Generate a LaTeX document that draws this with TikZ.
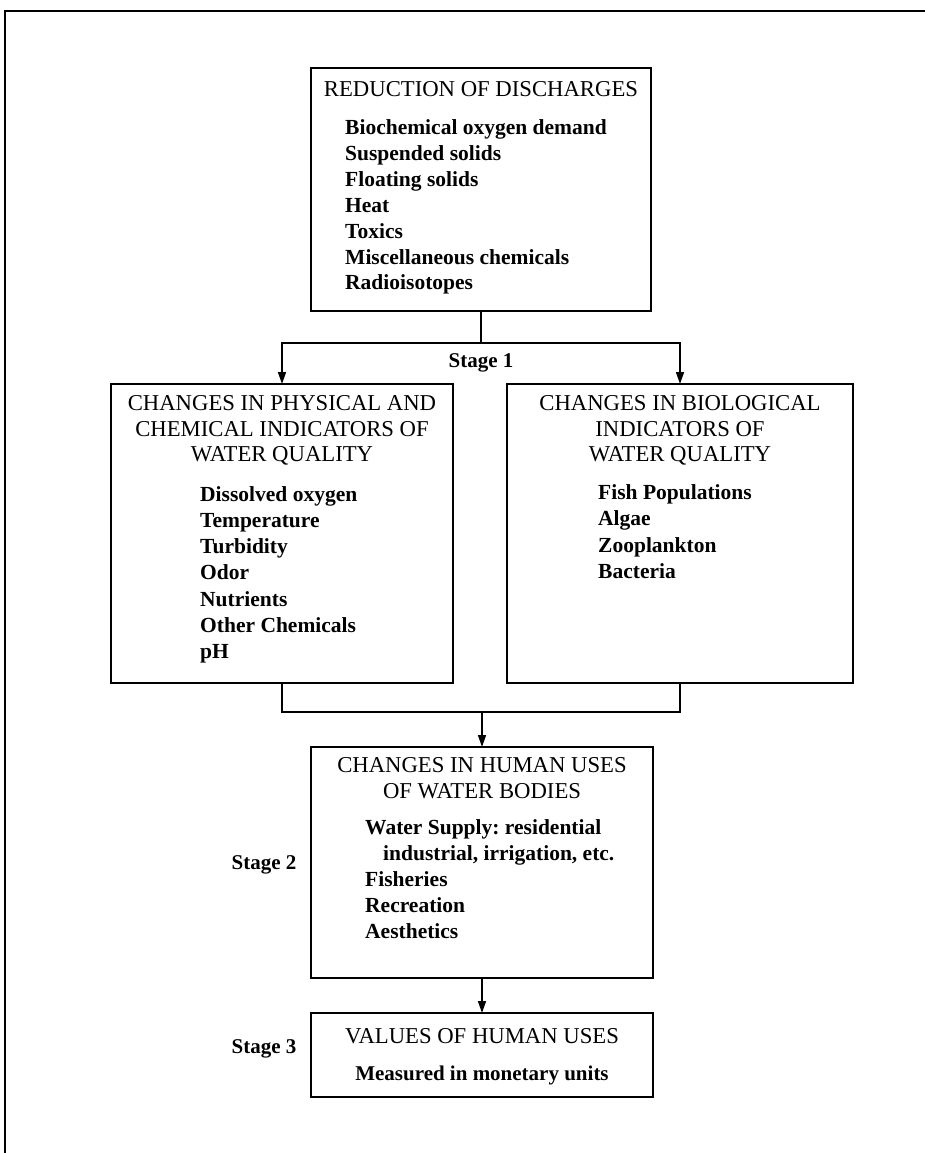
\documentclass[tikz,border=0pt]{standalone}
\usepackage{fontspec}
\setmainfont{Liberation Serif}
\usetikzlibrary{arrows.meta}
\frenchspacing
\begin{document}
\begin{tikzpicture}[x=1pt,y=-1pt,
  box/.style={draw, line width=1.5pt, inner sep=0pt, outer sep=0pt},
  ttl/.style={font=\fontsize{22.7}{25.5}\selectfont, align=center, inner sep=0pt},
  itm/.style={font=\bfseries\fontsize{21.5}{26}\selectfont, anchor=west, inner sep=0pt, text height=15pt, text depth=5pt},
  stg/.style={font=\bfseries\fontsize{21}{25}\selectfont, inner sep=0pt},
  conn/.style={line width=1.5pt},
  arr/.style={line width=1.5pt, -{Triangle[length=12pt,width=8pt]}}]
\useasboundingbox (0,0) rectangle (925,1153);
% outer frame (top and left edges only)
\coordinate (fTL) at (5,11);
\coordinate (fTR) at (925,11);
\coordinate (fBL) at (5,1153);
\draw[conn] (fTR) -- (fTL) -- (fBL);

% top box
\node[box, minimum width=340pt, minimum height=243pt] (top) at (481,189.5) {};
\node[ttl] (topT) at (481,89) {REDUCTION OF DISCHARGES};
\foreach \t [count=\i] in {Biochemical oxygen demand, Suspended solids, Floating solids, Heat, Toxics, Miscellaneous chemicals, Radioisotopes}
  \node[itm] (topI\i) at (345,{130+25.8*(\i-1)}) {\t};

% stage 1 branch
\coordinate (j1) at (481,343);
\node[stg] (s1) at (481,363) {Stage 1};

% physical/chemical box
\node[box, minimum width=342pt, minimum height=299pt] (phys) at (282,533.5) {};
\node[ttl] (physT) at (282,430.5) {CHANGES IN PHYSICAL AND\\CHEMICAL INDICATORS OF\\WATER QUALITY};
\foreach \t [count=\i] in {Dissolved oxygen, Temperature, Turbidity, Odor, Nutrients, Other Chemicals, pH}
  \node[itm] (physI\i) at (200,{496+26.3*(\i-1)}) {\t};

% biological box
\node[box, minimum width=346pt, minimum height=299pt] (bio) at (680,533.5) {};
\node[ttl] (bioT) at (680,430.5) {CHANGES IN BIOLOGICAL\\INDICATORS OF\\WATER QUALITY};
\foreach \t [count=\i] in {Fish Populations, Algae, Zooplankton, Bacteria}
  \node[itm] (bioI\i) at (598,{494+26.6*(\i-1)}) {\t};

\draw[conn] (top.south) -- (j1);
\draw[arr] (j1) -| (phys.north);
\draw[arr] (j1) -| (bio.north);

% human uses box
\node[box, minimum width=342pt, minimum height=231pt] (human) at (482,862.5) {};
\node[ttl] (humanT) at (482,778) {CHANGES IN HUMAN USES\\OF WATER BODIES};
\node[itm] (humanI1) at (365,829) {Water Supply: residential};
\node[itm] (humanI2) at (383,855) {industrial, irrigation, etc.};
\node[itm] (humanI3) at (365,881) {Fisheries};
\node[itm] (humanI4) at (365,907) {Recreation};
\node[itm] (humanI5) at (365,933) {Aesthetics};
\node[stg] (s2) at (264,865) {Stage 2};

% merge connector
\coordinate (j2) at (482,712);
\draw[conn] (phys.south) |- (j2) -| (bio.south);
\draw[arr] (j2) -- (human.north);

% values box
\node[box, minimum width=342pt, minimum height=84pt] (values) at (482,1055) {};
\node[ttl] (valuesT) at (482,1036) {VALUES OF HUMAN USES};
\node[itm, anchor=center, font=\bfseries\fontsize{21}{25}\selectfont] (valuesI) at (482,1075) {Measured in monetary units};
\node[stg] (s3) at (264,1049) {Stage 3};
\draw[arr] (human.south) -- (values.north);
\end{tikzpicture}
\end{document}
